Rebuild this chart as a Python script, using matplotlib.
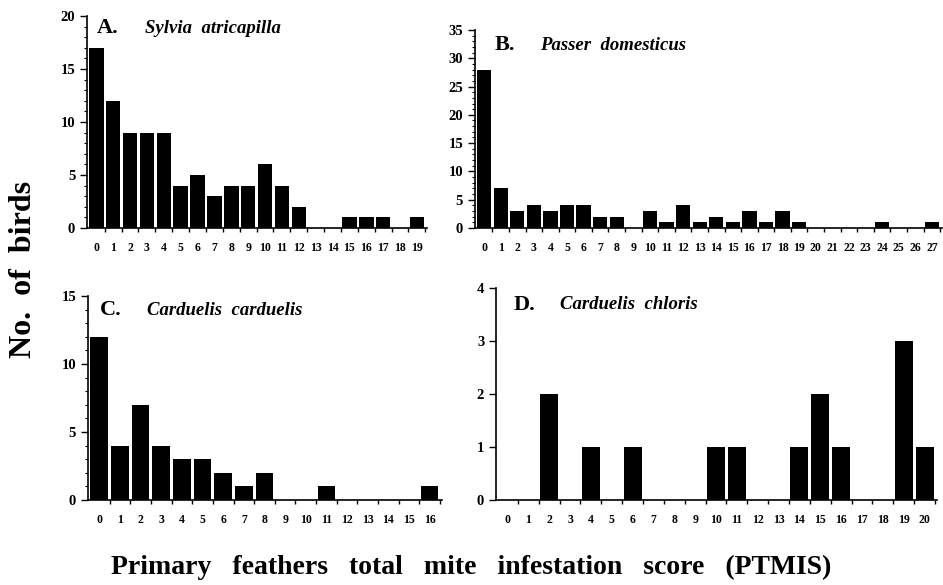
import matplotlib
matplotlib.use("Agg")
import matplotlib.pyplot as plt
from matplotlib.ticker import MultipleLocator, FixedLocator

plt.rcParams["font.family"] = ["Liberation Serif", "DejaVu Serif"]
plt.rcParams["font.weight"] = "bold"

# counts of birds per PTMIS score
sylvia = [17, 12, 9, 9, 9, 4, 5, 3, 4, 4, 6, 4, 2, 0, 0, 1, 1, 1, 0, 1]
passer = [28, 7, 3, 4, 3, 4, 4, 2, 2, 0, 3, 1, 4, 1, 2, 1, 3, 1, 3, 1,
          0, 0, 0, 0, 1, 0, 0, 1]
carduelis = [12, 4, 7, 4, 3, 3, 2, 1, 2, 0, 0, 1, 0, 0, 0, 0, 1]
chloris = [0, 0, 2, 0, 1, 0, 1, 0, 0, 0, 1, 1, 0, 0, 1, 2, 1, 0, 0, 3, 1]

letters = ["A.", "B.", "C.", "D."]
species = ["Sylvia  atricapilla", "Passer  domesticus",
           "Carduelis  carduelis", "Carduelis  chloris"]
ymax = [20, 35, 15, 4]
ystep = [5, 5, 5, 1]

# axes boxes in figure fractions [left, bottom, width, height]
boxes = [
    [0.0923, 0.6103, 0.3605, 0.3623],
    [0.5037, 0.6103, 0.4950, 0.3385],
    [0.0933, 0.1453, 0.3754, 0.3487],
    [0.5260, 0.1453, 0.4677, 0.3624],
]
# letter x, species x, y (axes fraction)
title_pos = [(0.03, 0.17, 0.943), (0.043, 0.139, 0.924),
             (0.034, 0.167, 0.93), (0.039, 0.145, 0.92)]

fig = plt.figure(figsize=(9.43, 5.85), dpi=100)

for i, vals in enumerate([sylvia, passer, carduelis, chloris]):
    ax = fig.add_axes(boxes[i])
    n = len(vals)
    x = list(range(n))
    ax.bar(x, vals, width=0.86, color="black")
    ax.set_xlim(-0.55, n - 0.4)
    ax.set_ylim(0, ymax[i])

    ax.xaxis.set_major_locator(FixedLocator(x))
    ax.set_xticklabels([str(v) for v in x], fontsize=8.5, fontweight="bold")
    ax.tick_params(axis="x", which="major", length=0, pad=10)
    ax.xaxis.set_minor_locator(FixedLocator([k + 0.5 for k in range(n)]))
    ax.tick_params(axis="x", which="minor", length=3, width=1, direction="out")

    ax.yaxis.set_major_locator(MultipleLocator(ystep[i]))
    ax.tick_params(axis="y", which="major", length=5, width=1, labelsize=10.5)
    if ystep[i] > 1:
        ax.yaxis.set_minor_locator(MultipleLocator(1))
        ax.tick_params(axis="y", which="minor", length=2, width=0.8)
    for lab in ax.get_yticklabels():
        lab.set_fontweight("bold")

    for s in ["top", "right"]:
        ax.spines[s].set_visible(False)
    ax.spines["left"].set_linewidth(1.2)
    ax.spines["bottom"].set_linewidth(1.2)

    lx, sx, ty = title_pos[i]
    ax.text(lx, ty, letters[i], transform=ax.transAxes, fontsize=16,
            fontweight="bold", va="center", ha="left")
    ax.text(sx, ty, species[i], transform=ax.transAxes, fontsize=13.5,
            fontweight="bold", fontstyle="italic", va="center", ha="left")

fig.text(0.025, 0.54, "No.  of  birds", rotation=90, fontsize=23,
         fontweight="bold", ha="center", va="center")
fig.text(0.5, 0.03,
         "Primary   feathers   total   mite   infestation   score   (PTMIS)",
         fontsize=20, fontweight="bold", ha="center", va="center")

fig.savefig("out.png", dpi=100)
